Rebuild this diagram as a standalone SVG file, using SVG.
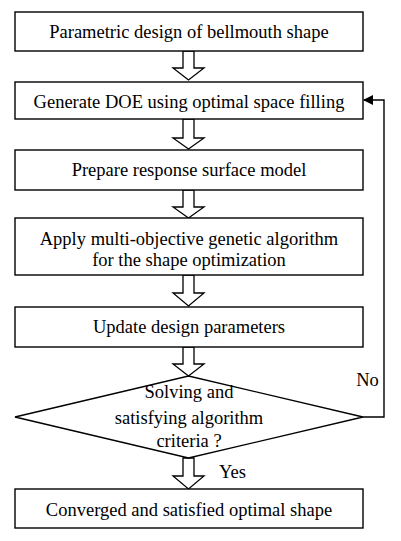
<svg xmlns="http://www.w3.org/2000/svg" width="401" height="541" viewBox="0 0 401 541">
<style>
.box{fill:#fff;stroke:#000;stroke-width:1.4}
.t{font-family:"Liberation Serif","Times New Roman",serif;font-size:18.5px;fill:#000;text-anchor:middle}
.ha{fill:#fff;stroke:#000;stroke-width:1.3;stroke-linejoin:miter}
.ln{fill:none;stroke:#000;stroke-width:1.4}
</style>
<defs>
<marker id="ah" markerWidth="10" markerHeight="10" refX="9" refY="5" orient="auto" markerUnits="userSpaceOnUse">
<path d="M0,0 L10,5 L0,10 Z" fill="#000"/>
</marker>
</defs>
<rect width="401" height="541" fill="#fff"/>
<g id="connectors">
<polygon class="ha" points="183,51 194,51 194,68 204,68 188.5,80 173,68 183,68"/>
<polygon class="ha" points="183,119 194,119 194,138 204,138 188.5,149 173,138 183,138"/>
<polygon class="ha" points="183,190 194,190 194,207 204,207 188.5,218 173,207 183,207"/>
<polygon class="ha" points="183,275 194,275 194,293 204,293 188.5,306 173,293 183,293"/>
<polygon class="ha" points="183,347 194,347 194,364 204,364 188.5,376 173,364 183,364"/>
<polygon class="ha" points="183,458 194,458 194,476 204,476 188.5,489 173,476 183,476"/>
<polyline class="ln" points="363,417 384,417 384,100 364,100" marker-end="url(#ah)"/>
<text class="t" x="367.5" y="386">No</text>
<text class="t" x="219" y="478" style="text-anchor:start">Yes</text>
</g>
<g id="n1">
<rect class="box" x="15" y="12" width="348" height="39"/>
<text class="t" x="189" y="38">Parametric design of bellmouth shape</text>
</g>
<g id="n2">
<rect class="box" x="15" y="82" width="348" height="37"/>
<text class="t" x="189" y="108">Generate DOE using optimal space filling</text>
</g>
<g id="n3">
<rect class="box" x="15" y="150" width="348" height="40"/>
<text class="t" x="189" y="176">Prepare response surface model</text>
</g>
<g id="n4">
<rect class="box" x="15" y="218" width="348" height="57"/>
<text class="t" x="189" y="245">Apply multi-objective genetic algorithm</text>
<text class="t" x="189" y="266">for the shape optimization</text>
</g>
<g id="n5">
<rect class="box" x="15" y="307" width="348" height="40"/>
<text class="t" x="189" y="333">Update design parameters</text>
</g>
<g id="n6">
<polygon class="box" points="188.5,376 363,417 188.5,458 15,417"/>
<text class="t" x="189" y="398">Solving and</text>
<text class="t" x="189" y="424">satisfying algorithm</text>
<text class="t" x="189" y="447">criteria ?</text>
</g>
<g id="n7">
<rect class="box" x="15" y="489" width="348" height="39"/>
<text class="t" x="189" y="516">Converged and satisfied optimal shape</text>
</g>
</svg>
